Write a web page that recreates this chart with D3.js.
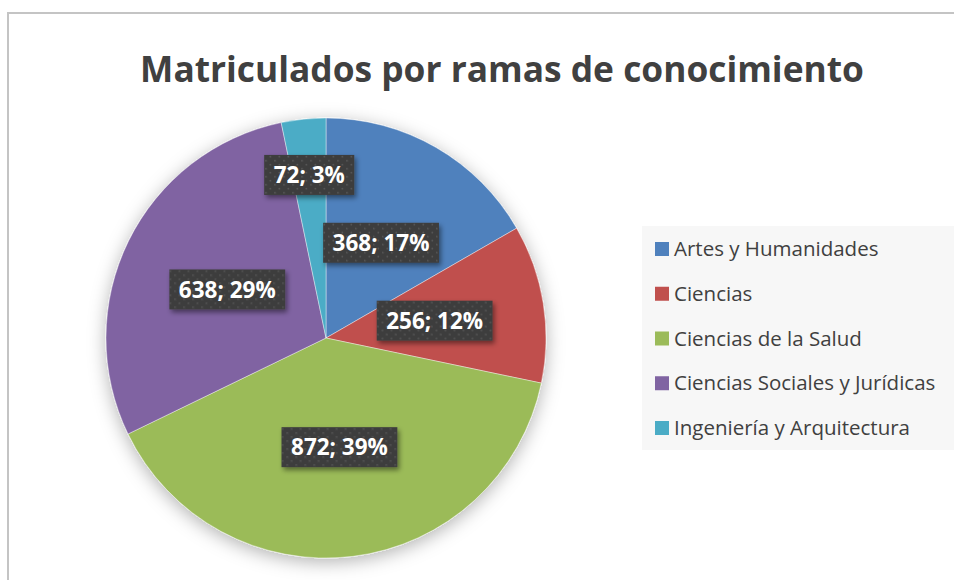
<!DOCTYPE html>
<html>
<head>
<meta charset="utf-8">
<script src="https://cdn.jsdelivr.net/npm/d3@7/dist/d3.min.js"></script>
<style>
  html, body { margin: 0; padding: 0; background: #fff; }
  svg { display: block; }
</style>
</head>
<body>
<svg id="chart"></svg>
<script>
// datos del gráfico
const categories = ["Artes y Humanidades", "Ciencias", "Ciencias de la Salud", "Ciencias Sociales y Jurídicas", "Ingeniería y Arquitectura"];
const values = [368, 256, 872, 638, 72];
const percents = [17, 12, 39, 29, 3];
const colors = ["#4f81bd", "#c0504d", "#9bbb59", "#8064a2", "#4bacc6"];
const title = "Matriculados por ramas de conocimiento";

const width = 954, height = 580;
const svg = d3.select("#chart").attr("width", width).attr("height", height);
const defs = svg.append("defs");

// sombra suave del pastel
const pieShadow = defs.append("filter").attr("id", "pieShadow")
    .attr("x", "-30%").attr("y", "-30%").attr("width", "160%").attr("height", "160%");
pieShadow.append("feDropShadow")
    .attr("dx", 0).attr("dy", 4).attr("stdDeviation", 9)
    .attr("flood-color", "#000").attr("flood-opacity", 0.3);

// sombra de las etiquetas
const boxShadow = defs.append("filter").attr("id", "boxShadow")
    .attr("x", "-20%").attr("y", "-30%").attr("width", "150%").attr("height", "180%");
boxShadow.append("feDropShadow")
    .attr("dx", 2).attr("dy", 3).attr("stdDeviation", 2.5)
    .attr("flood-color", "#000").attr("flood-opacity", 0.45);

// trama de puntos de las cajas
const dots = defs.append("pattern").attr("id", "dots")
    .attr("patternUnits", "userSpaceOnUse").attr("width", 9).attr("height", 8);
dots.append("rect").attr("width", 9).attr("height", 8).attr("fill", "#3e3e3e");
dots.append("rect").attr("x", 1).attr("y", 1).attr("width", 1.5).attr("height", 1.5).attr("fill", "#575757");
dots.append("rect").attr("x", 5.5).attr("y", 5).attr("width", 1.5).attr("height", 1.5).attr("fill", "#575757");

// marco del gráfico
svg.append("rect")
    .attr("x", 8).attr("y", 13).attr("width", 960).attr("height", 600)
    .attr("fill", "#fff").attr("stroke", "#c4c4c4").attr("stroke-width", 2);

// título
const titleText = svg.append("text")
    .attr("x", 502).attr("y", 82)
    .attr("text-anchor", "middle")
    .attr("font-family", "'Open Sans', sans-serif")
    .attr("font-weight", "bold")
    .attr("font-size", 40)
    .attr("fill", "#404040")
    .text(title);
const tw = titleText.node().getComputedTextLength();
titleText.attr("font-size", 40 * 724 / tw);

// pastel
const cx = 326, cy = 338, R = 220;
const pie = d3.pie().sort(null).value(d => d.value);
const arcs = pie(categories.map((c, i) => ({ name: c, value: values[i], pct: percents[i], color: colors[i] })));
const arc = d3.arc().innerRadius(0).outerRadius(R);

const g = svg.append("g").attr("transform", `translate(${cx},${cy})`);
g.append("g").attr("filter", "url(#pieShadow)")
  .selectAll("path")
  .data(arcs)
  .enter()
  .append("path")
    .attr("d", arc)
    .attr("fill", d => d.data.color)
    .attr("stroke", "#fff")
    .attr("stroke-opacity", 0.5)
    .attr("stroke-width", 0.8);

// etiquetas de datos
const labelArc = d3.arc().innerRadius(R * 0.5).outerRadius(R * 0.5);
const smallArc = d3.arc().innerRadius(R * 0.745).outerRadius(R * 0.745);

const labels = g.selectAll(".lbl")
    .data(arcs)
    .enter()
    .append("g")
    .attr("class", "lbl")
    .attr("transform", d => {
        const small = (d.endAngle - d.startAngle) < 0.3;
        const p = (small ? smallArc : labelArc).centroid(d);
        return `translate(${p[0]},${p[1]})`;
    });

const boxes = labels.append("rect")
    .attr("fill", "url(#dots)")
    .attr("filter", "url(#boxShadow)");

labels.append("text")
    .attr("text-anchor", "middle")
    .attr("dy", "0.36em")
    .attr("font-family", "'Open Sans', sans-serif")
    .attr("font-weight", "bold")
    .attr("font-size", 22.5)
    .attr("fill", "#fff")
    .text(d => `${d.data.value}; ${d.data.pct}%`)
    .each(function(d) { d.tw = this.getComputedTextLength(); });

boxes
    .attr("x", d => -(d.tw + 19) / 2)
    .attr("y", -20)
    .attr("width", d => d.tw + 19)
    .attr("height", 40);

// leyenda
svg.append("rect")
    .attr("x", 642).attr("y", 226).attr("width", 320).attr("height", 224)
    .attr("fill", "#f7f7f7");

const ly = d3.scalePoint().domain(categories).range([249, 428]);
const legend = svg.selectAll(".leg")
    .data(categories)
    .enter()
    .append("g")
    .attr("class", "leg")
    .attr("transform", d => `translate(655,${ly(d)})`);

legend.append("rect")
    .attr("x", 0).attr("y", -7)
    .attr("width", 14).attr("height", 14)
    .attr("fill", (d, i) => colors[i]);

legend.append("text")
    .attr("x", 19).attr("dy", "0.35em")
    .attr("font-family", "'Open Sans', sans-serif")
    .attr("font-size", 20.5)
    .attr("fill", "#404040")
    .text(d => d);
</script>
</body>
</html>
